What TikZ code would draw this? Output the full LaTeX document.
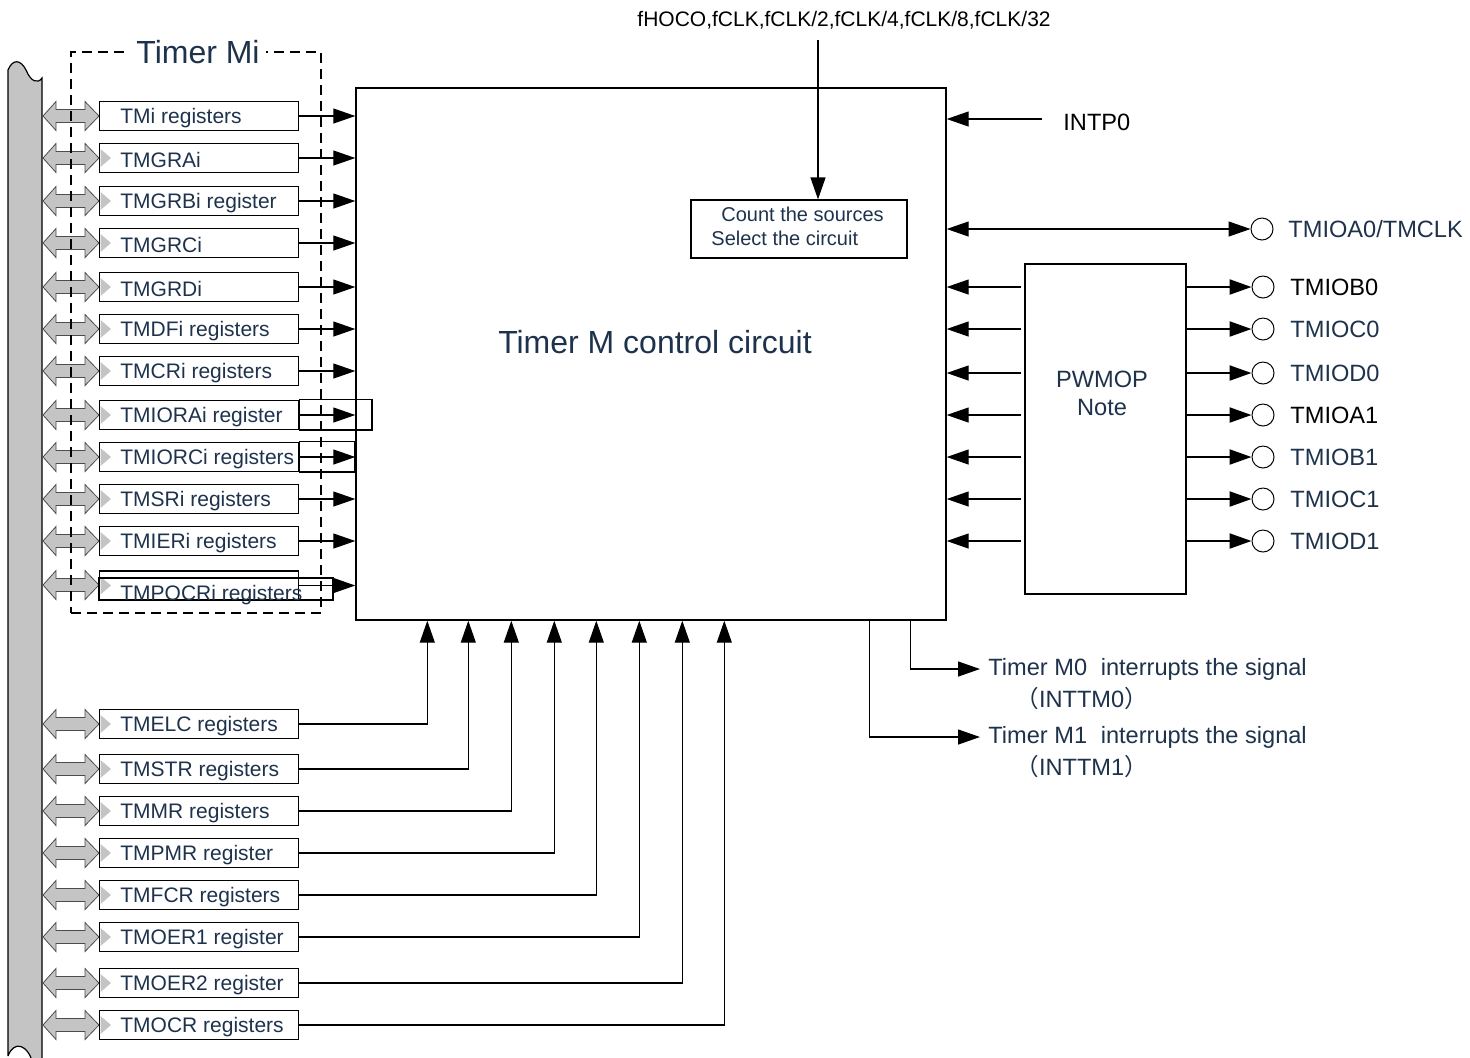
\documentclass[tikz,border=0pt]{standalone}
\usepackage{fontspec}
\setmainfont{Liberation Sans}
\newfontfamily\cjk{Noto Sans CJK SC}
\usepackage{xcolor}
\usetikzlibrary{arrows.meta, positioning}
\definecolor{navy}{RGB}{30,50,76}
\definecolor{busgray}{RGB}{196,196,196}

\begin{document}
\begin{tikzpicture}[
  x=0.5pt, y=-0.5pt,
  font=\fontsize{10.5}{12.5}\selectfont, >={Triangle[length=11pt, width=7.5pt]},
  reg/.style={draw, line width=0.7pt, anchor=west, inner sep=0pt,
              minimum width=99.5pt, minimum height=14.5pt},
  regtxt/.style={inner sep=0pt, text=navy, anchor=west, yshift=-0.8pt},
  lbl/.style={inner sep=0pt, text=navy},
  big/.style={font=\fontsize{11.8}{14}\selectfont},
  pinc/.style={circle, draw, line width=0.5pt, minimum size=11pt, inner sep=0pt},
  ar/.style={->, line width=0.6pt},
  busar/.pic={\draw[fill=busgray, draw=black!70, line width=0.4pt]
                (-56,0) -- (-43,-14.5) -- (-43,-6.5) -- (-14,-6.5) -- (-14,-14.5)
                -- (0,0) -- (-14,14.5) -- (-14,6.5) -- (-43,6.5) -- (-43,14.5) -- cycle;},
  busin/.pic={\fill[busgray] (1.5,-9) -- (12,0) -- (1.5,9) -- cycle;},
]
\useasboundingbox (0,0) rectangle (1470,1057);

% data bus on the left
\draw[fill=busgray, line width=0.6pt] (8,1056) -- (8,70)
  .. controls (13,58) and (21,60) .. (26,70) .. controls (31,82) and (38,84) .. (42,78)
  -- (42,1064) -- (33,1064) .. controls (28,1044) and (14,1040) .. (8,1056);

% control circuit
\node[draw, line width=0.7pt, minimum width=295pt, minimum height=266pt, inner sep=0pt]
  (ctl) at (651,354) {};
\node[lbl, font=\fontsize{16}{18}\selectfont] (ctltitle) at (655,342) {Timer M control circuit};
\node[draw, line width=0.6pt, minimum width=108pt, minimum height=29pt, inner sep=0pt]
  (cnt) at (799,229) {};
\node[lbl, align=left, anchor=west, font=\fontsize{10}{12}\selectfont] (cnttxt) at (711,226)
  {\hspace{5pt}Count the sources\\Select the circuit};

% clock sources
\node[inner sep=0pt] (clklbl) at (844,20) {fHOCO,fCLK,fCLK/2,fCLK/4,fCLK/8,fCLK/32};
\coordinate (clk) at (818,40);
\draw[ar] (clk) -- (clk |- cnt.north);

% INTP0
\node[inner sep=0pt, anchor=west, big] (intp) at (1063,122) {INTP0};
\coordinate (intpin) at ([xshift=-10.5pt, yshift=1.5pt]intp.west);
\draw[ar] (intpin) -- (intpin -| ctl.east);

% registers of Timer Mi
\foreach \n/\t/\y in {rb/TMGRAi/158, rc/TMGRBi register/201, rd/TMGRCi/243,
                      re/TMGRDi/287, rf/TMDFi registers/329, rg/TMCRi registers/371,
                      rh/TMIORAi register/415, ri/TMIORCi registers/457,
                      rj/TMSRi registers/499, rk/TMIERi registers/541} {
  \pic at (99,\y) {busar};
  \node[reg] (\n) at (99,\y) {};
  \pic at (\n.west) {busin};
  \node[regtxt, right=10.5pt of \n.west] {\t};
  \draw[ar] (\n.east) -- (\n.east -| ctl.west);
}
\pic at (99,116) {busar};
\node[reg] (ra) at (99,116) {};
\node[regtxt, right=10.5pt of ra.west] {TMi registers};
\draw[ar] (ra.east) -- (ra.east -| ctl.west);
% stray frames
\draw[line width=0.6pt] (rh.north east) rectangle (372,430);
\draw[line width=0.6pt] (ri.north east) rectangle (355,472);
\pic at (99,585) {busar};
\node[reg, minimum height=14.5pt] (rl) at (99,585.5) {};
\pic at (rl.west) {busin};
\draw[line width=0.6pt] (99,578) rectangle (333,600);
\node[regtxt, right=10.5pt of rl.west, yshift=-4pt] {TMPOCRi registers};
\draw[ar] (rl.east) -- (rl.east -| ctl.west);

% Timer Mi frame
\node[draw, dashed, dash pattern=on 5pt off 3pt, line width=0.6pt, inner sep=0pt,
      minimum width=125pt, minimum height=280.5pt] (grp) at (196,332.5) {};
\node[lbl, fill=white, inner xsep=3pt, font=\fontsize{16}{18}\selectfont]
  (grptitle) at (198,52) {Timer Mi};

% common registers
\foreach \n/\t/\y/\dx in {sa/TMELC registers/724/36, sb/TMSTR registers/769/56.5,
                          sc/TMMR registers/811/78, sd/TMPMR register/853/99.5,
                          se/TMFCR registers/895/120.5, sf/TMOER1 register/937/142,
                          sg/TMOER2 register/983/163.5, sh/TMOCR registers/1025/184.5} {
  \pic at (99,\y) {busar};
  \node[reg] (\n) at (99,\y) {};
  \pic at (\n.west) {busin};
  \node[regtxt, right=10.5pt of \n.west] {\t};
  \draw[ar] (\n.east) -| ([xshift=\dx pt]ctl.south west);
}

% PWMOP
\node[draw, line width=0.6pt, minimum width=80.5pt, minimum height=165pt, inner sep=0pt]
  (pwm) at (1105.5,429) {};
\node[lbl, align=center, big] (pwmtxt) at (1102,393) {PWMOP\\Note};

% TMIOA0/TMCLK
\node[pinc] (pa0) at (1262,229) {};
\node[lbl, anchor=west, big] at (1288,229) {TMIOA0/TMCLK};
\draw[<->, line width=0.6pt] (ctl.east |- pa0) -- (pa0.west);

% outputs of PWMOP
\foreach \n/\t/\y/\c in {pb0/TMIOB0/287/black, pc0/TMIOC0/329/navy, pd0/TMIOD0/373/navy,
                         pa1/TMIOA1/415/black, pb1/TMIOB1/457/navy, pc1/TMIOC1/499/navy,
                         pd1/TMIOD1/541/navy} {
  \node[pinc] (\n) at (1263,\y) {};
  \node[lbl, anchor=west, text=\c, big] at (1290,\y) {\t};
  \draw[->, line width=1.1pt] (pwm.east |- \n) -- (\n.west);
  \draw[ar] ([xshift=-1.5pt]pwm.west |- \n) -- (ctl.east |- \n);
}

% interrupts
\node[lbl, anchor=west, big] (tm0) at (988,669) {Timer M0\hspace{0.3em} interrupts the signal};
\node[lbl, big, below right=3pt and 13.5pt of tm0.south west] {{\cjk （}INTTM0{\cjk ）}};
\node[lbl, anchor=west, big] (tm1) at (988,737) {Timer M1\hspace{0.3em} interrupts the signal};
\node[lbl, big, below right=3pt and 13.5pt of tm1.south west] {{\cjk （}INTTM1{\cjk ）}};
\draw[ar] ([xshift=-18pt]ctl.south east) |- ([xshift=-4pt]tm0.west);
\draw[ar] ([xshift=-38.5pt]ctl.south east) |- ([xshift=-4pt]tm1.west);
\end{tikzpicture}
\end{document}
